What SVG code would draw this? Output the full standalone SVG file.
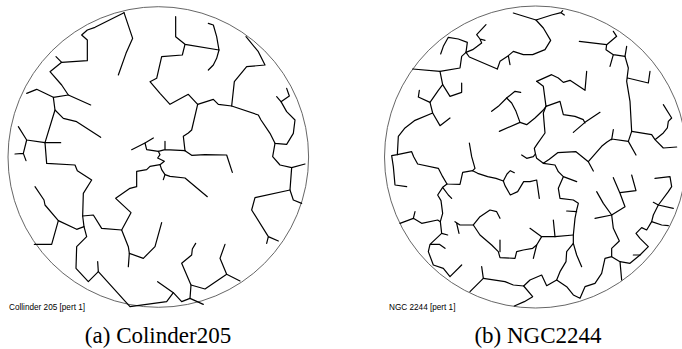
<svg xmlns="http://www.w3.org/2000/svg" width="682" height="349" viewBox="0 0 682 349">
<style>
.ring{fill:none;stroke:#555;stroke-width:0.9}
.tree path{fill:none;stroke:#000;stroke-width:3.6;stroke-linejoin:round;stroke-linecap:round}
.lab{font-family:"Liberation Sans",Arial,sans-serif;font-size:8.2px;fill:#000}
.cap{font-family:"Liberation Serif","Times New Roman",serif;font-size:23px;fill:#000;text-anchor:middle}
</style>
<rect width="682" height="349" fill="#fff"/>
<g id="panel-a">
<circle class="ring" cx="158.3" cy="157" r="150.3"/>
<g class="tree" transform="scale(0.33333)">
<path d="M372,38 L398,115 L378,160 L355,225"/>
<path d="M372,38 L285,82 L262,90 L245,105 L262,120 L262,182 L185,187 L168,170"/>
<path d="M185,187 L150,215 L185,255 L205,285 L272,315"/>
<path d="M205,285 L160,292 L110,268 L80,280"/>
<path d="M160,292 L165,330 L190,355 L230,365 L302,412"/>
<path d="M165,330 L135,428 L80,420 L55,380"/>
<path d="M135,428 L182,428"/>
<path d="M80,420 L70,460 L45,462 M70,460 L78,482"/>
<path d="M135,428 L140,490 L225,495 L232,512 L275,540 L250,580 L248,648 L280,645 L305,685 L365,690 L385,740 L388,760 L430,775 L465,740 L485,668"/>
<path d="M388,760 L385,800"/>
<path d="M365,690 L393,638 L347,595 L390,565 L410,560 L410,514 L440,509 L450,499 L480,494"/>
<path d="M105,560 L132,600 L135,615 L175,662 L230,688 L252,680 L248,648"/>
<path d="M175,662 L155,733 L103,733"/>
<path d="M252,680 L260,710 L230,740 L228,805 L265,845 L295,815 L293,785"/>
<path d="M295,815 L390,920 L500,905 L520,878 L473,845"/>
<path d="M520,878 L545,905 L570,895 L610,913"/>
<path d="M570,895 L573,855 L545,790 L575,765 L577,747 L587,730"/>
<path d="M573,855 L615,867 L680,823 L720,843 M680,823 L660,775 L675,733"/>
<path d="M395,449 L435,429 L460,414"/>
<path d="M435,429 L440,449 L475,454 L495,449 L555,452 M495,449 L495,424"/>
<path d="M555,452 L550,409 L565,399 L575,390 L593,313"/>
<path d="M555,452 L575,466 L615,464 L680,465 L697,517"/>
<path d="M475,454 L480,464 L473,474 L493,484 L480,494 L485,509 L495,524 L490,539"/>
<path d="M495,524 L510,529 L555,534 L622,590"/>
<path d="M527,50 L527,110 L555,133 L657,150 L650,110 L640,75 L625,70"/>
<path d="M657,150 L650,175 L640,195 L625,210"/>
<path d="M555,133 L547,165 L485,170 L470,235 L450,245 L480,280 L510,313 L565,283 L593,313"/>
<path d="M593,313 L640,298 L655,313 L695,318 L775,345 L783,360 L810,400 L825,430 L860,433 L880,400 L885,360 L860,335 L843,305 L830,290"/>
<path d="M843,305 L868,288 L860,265"/>
<path d="M695,318 L703,245 L740,200 L795,195 L775,155 L738,110"/>
<path d="M825,430 L818,470 L840,495 L875,503 L915,492"/>
<path d="M875,503 L870,570 L765,593 L755,630 L805,710 L800,730 M805,710 L835,723"/>
<path d="M870,570 L880,600 L905,610"/>
</g>
<text class="lab" x="9" y="310">Collinder 205 [pert 1]</text>
<text class="cap" x="158" y="343">(a) Colinder205</text>
</g>
<g id="panel-b">
<circle class="ring" cx="535.5" cy="157" r="151"/>
<g class="tree" transform="translate(341,0) scale(0.33333)">
<path d="M517,39 L585,60 L632,45 L660,38 L670,45 M660,38 L665,32"/>
<path d="M585,60 L607,84 L629,121 L612,149 L575,164 L547,164 L517,154 L502,167 L477,184 L469,207 M502,167 L507,194"/>
<path d="M469,207 L385,171 L375,157"/>
<path d="M375,157 L379,127 L352,117 L322,112 L307,139 L299,162"/>
<path d="M375,157 L395,149 L409,139 L422,129 L417,117 L432,121 M417,117 L407,104 L435,74"/>
<path d="M375,157 L362,169 L357,204 L297,214 L215,207"/>
<path d="M297,214 L305,254 L292,271 L267,307 L232,291 L235,271"/>
<path d="M305,254 L327,289 L362,277 L362,249"/>
<path d="M267,307 L275,339 L297,377 L327,354"/>
<path d="M275,339 L222,361 L192,384 L172,409 L169,464 L152,467 L157,500 L162,555 L197,560"/>
<path d="M169,464 L212,455 L218,470 L230,492 L292,505 L305,530 L318,552 L357,553 L365,517 L395,512 L410,520 L440,530 L465,535 L487,543 L492,557 L508,585 L530,575 L548,545 L567,545 L587,540 L595,595"/>
<path d="M487,543 L498,522 L508,512 L520,518"/>
<path d="M385,429 L392,470 L402,505 L395,512"/>
<path d="M318,552 L305,562 L290,585 L300,602 L305,640 L298,665 L302,700 L320,705 M305,562 L322,585 L332,595"/>
<path d="M298,665 L290,660 L242,670 L217,655 L222,635 M217,655 L177,670"/>
<path d="M302,700 L267,733 L262,755 L277,795 L307,805 L327,830 L362,795 M267,733 L295,733 L312,745"/>
<path d="M342,665 L357,675 L397,675 L417,650 L447,630 L467,635 L477,655 M347,670 L354,700"/>
<path d="M397,675 L417,705 L452,735 L472,755 L477,773 L522,775 L527,755 L547,750 L575,745 L587,735 L602,710 L642,710 L697,705 M477,720 L477,755"/>
<path d="M642,710 L637,660 M602,710 L567,685 M587,735 L577,775"/>
<path d="M422,800 L427,835 L387,875"/>
<path d="M427,835 L492,845 L517,855 L548,858 L567,840 L602,825 L617,857 L647,840 L677,860 L697,885 L717,895 L732,860 L762,850 L782,820 L792,775 L812,770 L812,745 L835,723 L817,685 L812,645 L787,610 L767,575"/>
<path d="M548,858 L575,890 L550,905 L520,918"/>
<path d="M647,840 L657,815 L675,785 L677,755 L697,730 L697,705 L702,655 L707,630 L712,610 L697,600 L657,595 L652,565 L667,530 L652,515 L642,495 L607,490"/>
<path d="M677,633 L707,635 M697,730 L707,765 L722,800 M667,530 L707,545 M812,645 L762,655"/>
<path d="M812,645 L852,620 L837,580 L817,533 M837,578 L885,572 L872,525"/>
<path d="M812,770 L837,785 L842,840 M837,785 L867,790 L897,765 L922,740 L897,715 L885,700 L902,683 L917,690 L932,665 L937,645 L952,615 L982,575 L992,560 L987,530 L942,535"/>
<path d="M877,765 L897,765 M952,615 L997,625 M937,607 L952,615 M932,665 L962,675 L982,677"/>
<path d="M497,294 L522,274 L539,277 M497,294 L472,319 L452,334 M537,367 L475,394"/>
<path d="M497,294 L512,309 L525,334 L537,367 L557,374 L582,354 L607,330 L615,319"/>
<path d="M587,244 L632,224 L652,234 L667,247 L687,241 L732,271 L737,214"/>
<path d="M587,244 L607,259 L615,319 L657,304 L667,344 L702,349 L727,359 L732,369 M777,337 L732,367 L697,397"/>
<path d="M615,319 L607,339 L609,364 L612,399 L590,430 L580,445 L583,460 L587,475 L607,490 L625,478 L650,458 L705,455 L742,485 L757,513"/>
<path d="M583,462 L577,470 L557,475 L542,465"/>
<path d="M742,485 L782,439 L797,427 L812,417 L862,424 L872,394 M817,389 L812,419 M862,424 L885,465"/>
<path d="M715,124 L797,134 L795,149 L817,164 L852,169 L857,139 M817,164 L807,199 M797,134 L827,109 L817,94"/>
<path d="M852,169 L862,204 L857,244 L867,304 L872,394 M860,234 L922,249 L927,214"/>
<path d="M872,394 L932,404 L942,419 L967,444 L1007,441 M942,419 L967,399 L979,384 L982,364 L992,354 L967,314"/>
</g>
<text class="lab" x="389" y="310">NGC 2244 [pert 1]</text>
<text class="cap" x="538" y="343">(b) NGC2244</text>
</g>
</svg>
